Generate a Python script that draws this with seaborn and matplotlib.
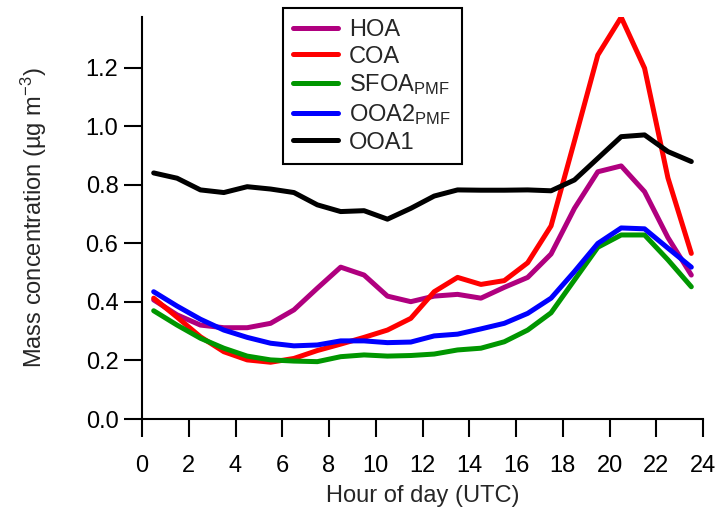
import numpy as np
import pandas as pd
import matplotlib
matplotlib.use("Agg")
import matplotlib.pyplot as plt
import seaborn as sns

# Diurnal cycle of organic aerosol factors (hourly means, µg m-3)
hours = [h + 0.5 for h in range(24)]

hoa = [0.407, 0.356, 0.321, 0.312, 0.312, 0.327, 0.373, 0.447, 0.519, 0.492,
       0.420, 0.401, 0.420, 0.426, 0.413, 0.450, 0.484, 0.564, 0.720, 0.845,
       0.865, 0.777, 0.620, 0.492]
coa = [0.413, 0.348, 0.281, 0.230, 0.202, 0.194, 0.207, 0.234, 0.256, 0.279,
       0.304, 0.344, 0.435, 0.484, 0.460, 0.473, 0.534, 0.660, 0.950, 1.244,
       1.373, 1.199, 0.824, 0.566]
sfoa = [0.370, 0.321, 0.276, 0.242, 0.215, 0.202, 0.198, 0.196, 0.213, 0.219,
        0.215, 0.217, 0.222, 0.236, 0.242, 0.264, 0.304, 0.363, 0.475, 0.587,
        0.629, 0.629, 0.544, 0.452]
ooa2 = [0.435, 0.386, 0.341, 0.304, 0.279, 0.259, 0.250, 0.253, 0.267, 0.267,
        0.261, 0.263, 0.284, 0.290, 0.308, 0.327, 0.361, 0.413, 0.504, 0.600,
        0.653, 0.650, 0.584, 0.519]
ooa1 = [0.841, 0.823, 0.783, 0.774, 0.794, 0.786, 0.774, 0.732, 0.709, 0.712,
        0.683, 0.720, 0.762, 0.783, 0.782, 0.782, 0.783, 0.780, 0.817, 0.891,
        0.965, 0.971, 0.914, 0.880]

labels = ["HOA", "COA", r"SFOA$_{\mathrm{PMF}}$", r"OOA2$_{\mathrm{PMF}}$", "OOA1"]
colors = ["#B0007F", "#FF0000", "#009600", "#0000FF", "#000000"]

df = pd.concat(
    [pd.DataFrame({"hour": hours, "conc": vals, "factor": lab})
     for lab, vals in zip(labels, [hoa, coa, sfoa, ooa2, ooa1])],
    ignore_index=True,
)

sns.set_style("ticks")
plt.rcParams["font.family"] = ["Liberation Sans", "DejaVu Sans"]
plt.rcParams["mathtext.fontset"] = "custom"
plt.rcParams["mathtext.rm"] = "Liberation Sans"
plt.rcParams["mathtext.it"] = "Liberation Sans"
plt.rcParams["mathtext.default"] = "regular"

FS = 17

fig = plt.figure(figsize=(7.2, 5.18), dpi=100)
ax = fig.add_axes([142 / 720, 99 / 518, 561 / 720, 402 / 518])

sns.lineplot(data=df, x="hour", y="conc", hue="factor", hue_order=labels,
             palette=dict(zip(labels, colors)), linewidth=3.6, ax=ax,
             estimator=None, sort=False)

ax.set_xlim(0, 24)
ax.set_ylim(0, 1.374)
ax.set_xticks(range(0, 25, 2))
ax.set_yticks(np.arange(0, 1.21, 0.2))
ax.yaxis.set_major_formatter(matplotlib.ticker.FormatStrFormatter("%.1f"))

for side in ["top", "right"]:
    ax.spines[side].set_visible(False)
for side in ["left", "bottom"]:
    ax.spines[side].set_linewidth(1.5)
    ax.spines[side].set_color("black")

ax.tick_params(axis="both", direction="out", length=13, width=1.5,
               colors="black", labelsize=FS)
ax.tick_params(axis="x", pad=13)
ax.tick_params(axis="y", pad=4)

ax.set_xlabel("Hour of day (UTC)", fontsize=FS, labelpad=6)
ax.set_ylabel(r"Mass concentration (µg m$^{-3}$)", fontsize=FS, labelpad=26)

handles, _ = ax.get_legend_handles_labels()
leg = ax.legend(handles, labels, loc="upper left",
                bbox_to_anchor=((282.7 - 142) / 561, (419 - 8.3) / 402),
                borderaxespad=0, fontsize=FS, frameon=True, fancybox=False,
                edgecolor="black", framealpha=1, handlelength=1.9,
                handletextpad=0.45, borderpad=0.45, labelspacing=0.2)
leg.get_frame().set_linewidth(1.5)
for line in leg.get_lines():
    line.set_linewidth(3.6)

fig.savefig("out.png", dpi=100)
